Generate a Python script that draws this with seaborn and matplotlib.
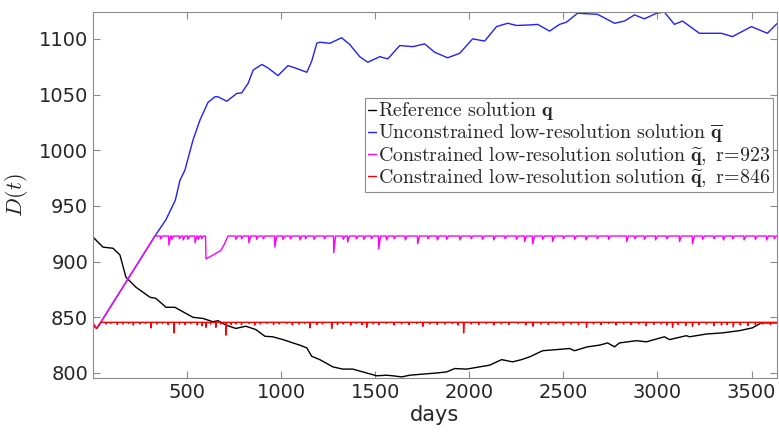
import numpy as np
import pandas as pd
import matplotlib
matplotlib.use("Agg")
import matplotlib.pyplot as plt
import seaborn as sns

# values (days, D(t))
blue_days = [1, 20, 44, 330, 388, 438, 463, 489, 532, 569,
             612, 649, 665, 712, 765, 791, 825, 852, 898, 930,
             984, 1037, 1073, 1121, 1137, 1163, 1190, 1206, 1259, 1322,
             1365, 1418, 1461, 1525, 1567, 1631, 1700, 1763, 1816, 1885,
             1949, 2018, 2082, 2145, 2204, 2252, 2321, 2363, 2427, 2480,
             2517, 2575, 2682, 2772, 2825, 2878, 2931, 2995, 3037, 3090,
             3133, 3223, 3287, 3340, 3398, 3499, 3584, 3637]
blue_vals = [843, 840, 846, 923, 937.5, 955, 973, 982, 1009, 1027,
             1043, 1048, 1048, 1044, 1051, 1051.5, 1060, 1072, 1077, 1074,
             1067, 1076, 1074, 1071, 1070, 1080, 1096, 1097, 1096, 1101,
             1095, 1084, 1079, 1084, 1082, 1094, 1093, 1095.5, 1088, 1083,
             1087, 1100, 1098, 1111, 1114, 1112, 1112.5, 1113, 1107, 1113,
             1115, 1123, 1122, 1114, 1116, 1121.5, 1118, 1123, 1124, 1113,
             1116, 1105, 1105, 1105, 1102, 1111, 1105, 1114]

black_days = [1, 54, 107, 144, 176, 229, 304, 335, 389, 436,
              489, 532, 585, 638, 665, 707, 760, 813, 866, 914,
              956, 1010, 1063, 1100, 1137, 1163, 1206, 1275, 1328, 1381,
              1455, 1508, 1561, 1593, 1641, 1684, 1753, 1827, 1880, 1923,
              1986, 2055, 2108, 2172, 2230, 2278, 2321, 2390, 2464, 2533,
              2559, 2628, 2692, 2735, 2772, 2798, 2888, 2941, 3037, 3064,
              3154, 3170, 3260, 3345, 3435, 3504, 3552, 3594, 3637]
black_vals = [922, 913, 912, 906, 886, 877, 868, 867, 859, 859,
              854, 850, 849, 846, 847, 843, 840, 842, 839, 833,
              832.5, 830, 827, 825, 822.5, 815, 812, 805.5, 803.5, 803.5,
              800, 797.5, 798, 797.5, 796.5, 798, 799, 800, 801, 804,
              803.5, 805.5, 807, 812, 810, 812, 814.5, 820, 821, 822,
              820, 823.5, 825, 827, 823.5, 827, 829, 828, 832.5, 830,
              833.5, 832.5, 835, 836, 838, 840.5, 845, 845, 845]

# constrained r=923: ramp, plateau with a big drop near day 600, plus small dips
mag_days = [1, 20, 44, 330, 599, 601, 640, 680, 700, 718, 3640]
mag_vals = [843, 840, 846, 923, 923, 902.5, 906, 910, 916, 923, 923]
mag_base = 923
mag_dip_days = [360, 404, 420, 460, 480, 505, 543, 560, 578, 760,
                790, 829, 870, 905, 967, 1010, 1050, 1100, 1130, 1175,
                1230, 1280, 1330, 1354, 1400, 1440, 1480, 1519, 1560, 1600,
                1660, 1726, 1780, 1830, 1880, 1950, 2010, 2070, 2130, 2190,
                2250, 2294, 2337, 2390, 2443, 2500, 2560, 2620, 2680, 2740,
                2836, 2880, 2930, 2990, 3050, 3117, 3186, 3240, 3300, 3350,
                3400, 3460, 3520, 3580, 3620]
mag_dip_vals = [920.5, 915, 920, 920.5, 919.5, 920, 917, 920, 920.5, 920,
                920.5, 917, 920, 920.5, 913, 920, 920.5, 919.5, 920.5, 920,
                920.5, 908, 920, 917.5, 920.5, 920, 920.5, 911.5, 919.5, 920.5,
                919.5, 916, 920.5, 919.5, 920, 919.5, 920.5, 920, 919.5, 920.5,
                920, 918, 916, 920, 918, 920.5, 920, 919.5, 920.5, 920,
                918, 920.5, 920, 919.5, 920.5, 918, 916, 920, 920.5, 919.5,
                920.5, 919.5, 920, 919.5, 920.5]

# constrained r=846
red_days = [1, 20, 44, 3640]
red_vals = [845, 840, 845.5, 845.5]
red_base = 845.5
red_dip_days = [70, 95, 130, 160, 190, 215, 250, 280, 309, 340,
                370, 400, 431, 460, 490, 520, 555, 580, 601, 625,
                654, 680, 707, 735, 760, 790, 830, 860, 890, 925,
                960, 990, 1030, 1060, 1095, 1125, 1153, 1190, 1220, 1269,
                1300, 1330, 1370, 1400, 1430, 1455, 1490, 1520, 1560, 1600,
                1640, 1680, 1720, 1753, 1790, 1830, 1870, 1910, 1940, 1970,
                2010, 2050, 2090, 2130, 2170, 2210, 2260, 2300, 2339, 2380,
                2420, 2460, 2500, 2540, 2580, 2623, 2660, 2700, 2740, 2780,
                2820, 2860, 2900, 2940, 2980, 3020, 3050, 3080, 3110, 3150,
                3186, 3220, 3260, 3300, 3340, 3370, 3403, 3440, 3480, 3520,
                3560, 3600]
red_dip_vals = [844, 844.5, 843.5, 844, 844.5, 843, 844, 844.5, 840.5, 844,
                844.5, 843.5, 836, 844, 843.5, 844.5, 843, 842.5, 841, 844,
                841, 844, 834, 843.5, 844, 843.5, 844.5, 843, 844, 844.5,
                843.5, 844, 844.5, 843, 844, 844.5, 840.5, 843.5, 844, 840,
                843.5, 844, 843, 844.5, 843.5, 841, 844, 843.5, 844.5, 843,
                844, 843.5, 844.5, 842, 844, 843.5, 844, 844.5, 843, 836,
                844, 843.5, 844.5, 843, 844, 843.5, 844.5, 843, 842, 844,
                843.5, 844.5, 843, 844, 843.5, 841, 844, 843.5, 844.5, 843,
                844, 843.5, 844, 842.5, 843.5, 844, 843, 841, 843.5, 842.5,
                842, 843.5, 844, 842.5, 843, 843.5, 841.5, 843, 842.5, 843.5,
                844, 843.5]


def with_dips(days, vals, dip_days, dip_vals, base, w):
    d = list(days)
    v = list(vals)
    for x, y in zip(dip_days, dip_vals):
        d += [x - 1, x, x + w]
        v += [base, y, base]
    order = np.argsort(d, kind="stable")
    return np.array(d)[order], np.array(v)[order]


mag_x, mag_y = with_dips(mag_days, mag_vals, mag_dip_days, mag_dip_vals, mag_base, 10)
red_x, red_y = with_dips(red_days, red_vals, red_dip_days, red_dip_vals, red_base, 3)

sns.set_style("ticks")
plt.rcParams["mathtext.fontset"] = "cm"
plt.rcParams["font.family"] = ["DejaVu Sans"]

fig = plt.figure(figsize=(7.79, 4.33), dpi=100)
ax = fig.add_axes([0.1194, 0.127, 0.878, 0.845])

lw = 1.0
sns.lineplot(x=black_days, y=black_vals, color="black", lw=lw, sort=False, ax=ax,
             label=r"$\mathrm{Reference\ solution}\ \mathbf{q}$")
sns.lineplot(x=blue_days, y=blue_vals, color="#2020ff", lw=lw, sort=False, ax=ax,
             label=r"$\mathrm{Unconstrained\ low\text{-}resolution\ solution}\ \overline{\mathbf{q}}$")
sns.lineplot(x=mag_x, y=mag_y, color="#ff00ff", lw=lw, sort=False, ax=ax,
             label=r"$\mathrm{Constrained\ low\text{-}resolution\ solution}\ \widetilde{\mathbf{q}},\ \mathrm{r}\!=\!\mathrm{923}$")
sns.lineplot(x=red_x, y=red_y, color="#ff0000", lw=lw, sort=False, ax=ax,
             label=r"$\mathrm{Constrained\ low\text{-}resolution\ solution}\ \widetilde{\mathbf{q}},\ \mathrm{r}\!=\!\mathrm{846}$")

ax.set_xlim(1, 3635)
ax.set_ylim(795.5, 1124)
ax.set_xticks([500, 1000, 1500, 2000, 2500, 3000, 3500])
ax.set_yticks([800, 850, 900, 950, 1000, 1050, 1100])
ax.tick_params(direction="in", top=True, right=True, length=5, width=0.8,
               color="#8c8c8c", labelsize=14, labelcolor="#262626")
for s in ax.spines.values():
    s.set_color("#8c8c8c")
    s.set_linewidth(0.8)

ax.set_xlabel("days", fontsize=15, color="#262626", labelpad=2)
ax.set_ylabel(r"$D(t)$", fontsize=16, color="#262626", labelpad=6)

leg = ax.legend(loc="upper left", bbox_to_anchor=(0.398, 0.765), borderaxespad=0,
                fontsize=14.3, handlelength=0.4, handletextpad=0.1, labelspacing=0.0,
                borderpad=0.12, fancybox=False, framealpha=1, edgecolor="#8c8c8c")
leg.get_frame().set_linewidth(0.8)

fig.savefig("out.png", dpi=100)
